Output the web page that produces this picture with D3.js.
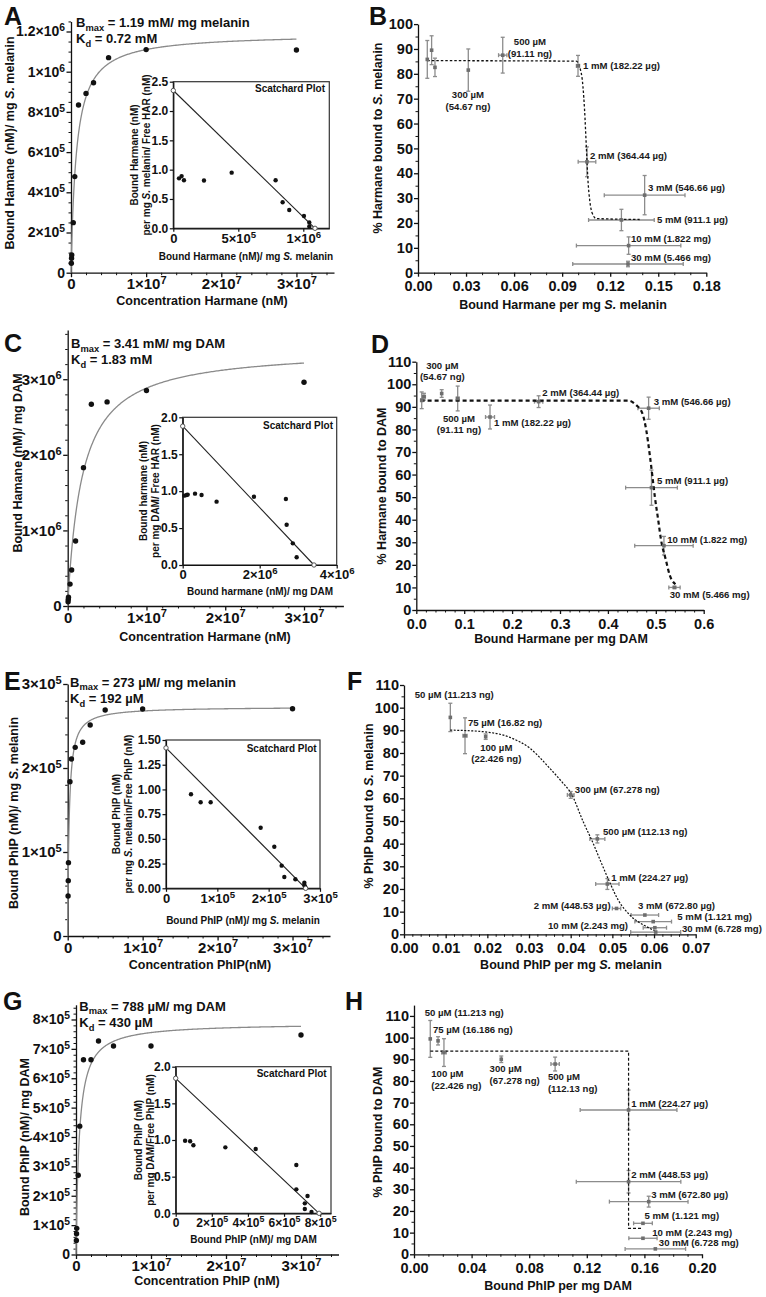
<!DOCTYPE html>
<html><head><meta charset="utf-8">
<script src="https://cdn.jsdelivr.net/npm/d3@7"></script>
<style>
body{margin:0;background:#fff}
svg{display:block}
</style>
</head><body>
<svg id="c" width="766" height="1297"></svg>
<script>
// ---------------- DATA ----------------
// Saturation binding: concentrations (nM)
const concentrations = [5e4, 7.5e4, 1e5, 3e5, 5e5, 1e6, 2e6, 3e6, 5e6, 1e7, 3e7];
const boundA = [4.7e4, 7.2e4, 8.8e4, 2.49e5, 4.78e5, 8.34e5, 8.92e5, 9.45e5, 1.07e6, 1.11e6, 1.108e6];
const boundC = [5.7e4, 8.8e4, 1.15e5, 2.9e5, 4.76e5, 8.6e5, 1.83e6, 2.67e6, 2.70e6, 2.85e6, 2.96e6];
const boundE = [4.76e4, 6.59e4, 8.73e4, 1.837e5, 2.107e5, 2.246e5, 2.306e5, 2.512e5, 2.69e5, 2.702e5, 2.706e5];
const boundG = [4.8e4, 7.1e4, 8.9e4, 2.7e5, 4.37e5, 6.63e5, 6.63e5, 7.27e5, 7.10e5, 7.10e5, 7.47e5];
// fit parameters (from the panel text)
const fitA = {bmax: 1.19e6, kd: 7.2e5};
const fitC = {bmax: 3.41e6, kd: 1.83e6};
const fitE = {bmax: 2.73e5, kd: 1.92e5};
const fitG = {bmax: 7.88e5, kd: 4.30e5};
const fitTextA = ["1.19 mM/ mg melanin", "0.72 mM"];
const fitTextC = ["3.41 mM/ mg DAM", "1.83 mM"];
const fitTextE = ["273 \u00b5M/ mg melanin", "192 \u00b5M"];
const fitTextG = ["788 \u00b5M/ mg DAM", "430 \u00b5M"];

// Scatchard insets
const scatAx = [4.4e4, 6.4e4, 8.2e4, 2.36e5, 4.49e5, 7.87e5, 8.41e5, 8.92e5, 1.005e6, 1.046e6, 1.046e6];
const scatAy = [0.852, 0.89, 0.82, 0.815, 0.949, 0.82, 0.443, 0.312, 0.21, 0.10, 0.03];
const scatAline = [[0, 2.35], [1.09e6, 0]];
const scatCx = [4.3e4, 1.04e5, 1.3e5, 3.2e5, 4.9e5, 8.8e5, 1.85e6, 2.68e6, 2.70e6, 2.86e6, 2.96e6];
const scatCy = [0.939, 0.948, 0.953, 0.966, 0.948, 0.858, 0.925, 0.894, 0.546, 0.293, 0.104];
const scatCline = [[0, 1.88], [3.41e6, 0]];
const scatEx = [4.87e4, 6.75e4, 8.7e4, 1.844e5, 2.11e5, 2.253e5, 2.305e5, 2.52e5, 2.695e5, 2.695e5, 2.71e5];
const scatEy = [0.951, 0.87, 0.87, 0.613, 0.421, 0.229, 0.115, 0.091, 0.057, 0.034, 0.017];
const scatEline = [[0, 1.42], [2.72e5, 0]];
const scatGx = [5.2e4, 8.0e4, 9.8e4, 2.75e5, 4.43e5, 6.68e5, 6.68e5, 7.3e5, 7.15e5, 7.15e5, 7.52e5];
const scatGy = [0.99, 0.982, 0.928, 0.90, 0.877, 0.659, 0.327, 0.236, 0.136, 0.059, 0.018];
const scatGline = [[0, 1.842], [7.94e5, 0]];

// Displacement panels
const dispBx = [0.0058, 0.0085, 0.0106, 0.0314, 0.0529, 0.0999, 0.1055, 0.1415, 0.127, 0.1315, 0.1311];
const dispBy = [85.8, 89.5, 82.6, 81.5, 87.5, 83.2, 44.6, 31.2, 21.2, 10.9, 3.5];
const dispBxe = [0, 0, 0, 0, 0.0026, 0.001, 0.0055, 0.0252, 0.0205, 0.0326, 0.0345];
const dispBye = [7.6, 5.8, 3.7, 8.5, 7.2, 4.2, 6.0, 7.9, 4.3, 3.5, 1.1];
const curveB = [[0.0058,85.3],[0.0988,85.1],[0.1009,82.8],[0.103,74.8],[0.104,65.4],[0.1051,50.7],[0.1061,37.3],[0.1072,29.2],[0.1088,23.9],[0.1113,21.8],[0.1384,21.4]];
const labelsB = [
  {t:"500 \u00b5M\n(91.11 ng)", x:0.0699, y:91.4, a:"middle"},
  {t:"1 mM (182.22 \u00b5g)", x:0.103, y:81.9, a:"start"},
  {t:"300 \u00b5M\n(54.67 ng)", x:0.0312, y:70.2, a:"middle"},
  {t:"2 mM (364.44 \u00b5g)", x:0.1074, y:45.7, a:"start"},
  {t:"3 mM (546.66 \u00b5g)", x:0.1436, y:32.9, a:"start"},
  {t:"5 mM (911.1 \u00b5g)", x:0.1492, y:20.0, a:"start"},
  {t:"10 mM (1.822 mg)", x:0.133, y:12.3, a:"start"},
  {t:"30 mM (5.466 mg)", x:0.133, y:4.9, a:"start"}
];

const dispDx = [0.0113, 0.016, 0.053, 0.0864, 0.1539, 0.2554, 0.485, 0.491, 0.517, 0.539];
const dispDy = [92.9, 94.5, 95.9, 93.7, 85.5, 92.3, 89.4, 54.2, 28.5, 10.0];
const dispDxe = [0.002, 0.003, 0, 0.003, 0.0094, 0.0087, 0.0223, 0.054, 0.061, 0.0118];
const dispDye = [3.7, 1.5, 1.7, 5.5, 5.3, 2.6, 4.9, 7.8, 4.1, 0.5];
const curveD = [[0.009,92.8],[0.442,92.8],[0.459,90.8],[0.472,87.1],[0.480,79.8],[0.487,69.4],[0.493,59.1],[0.498,50.2],[0.505,39.9],[0.511,31.0],[0.521,22.2],[0.529,15.5],[0.541,11.4]];
const labelsD = [
  {t:"300 \u00b5M\n(54.67 ng)", x:0.0543, y:106.9, a:"middle"},
  {t:"500 \u00b5M\n(91.11 ng)", x:0.0891, y:83.3, a:"middle"},
  {t:"1 mM (182.22 \u00b5g)", x:0.1622, y:81.4, a:"start"},
  {t:"2 mM (364.44 \u00b5g)", x:0.263, y:94.7, a:"start"},
  {t:"3 mM (546.66 \u00b5g)", x:0.4956, y:90.6, a:"start"},
  {t:"5 mM (911.1 \u00b5g)", x:0.5025, y:55.6, a:"start"},
  {t:"10 mM (1.822 mg)", x:0.524, y:29.8, a:"start"},
  {t:"30 mM (5.466 mg)", x:0.529, y:5.4, a:"start"}
];

const dispFx = [0.01112, 0.01464, 0.0196, 0.0400, 0.0464, 0.0488, 0.0510, 0.0578, 0.0598, 0.0602, 0.0604];
const dispFy = [95.7, 87.6, 87.2, 61.5, 42.1, 22.2, 11.4, 8.5, 5.6, 2.9, 1.0];
const dispFxe = [0, 0.0005, 0, 0.0008, 0.0018, 0.0028, 0.0010, 0.0033, 0.0044, 0.0028, 0.0060];
const dispFye = [6.25, 7.9, 1.2, 1.5, 1.8, 2.4, 0, 0, 0, 0, 0];
const curveF = [[0.0111,90.1],[0.019,89.4],[0.0254,86.9],[0.0302,82.1],[0.035,73.2],[0.0382,66.6],[0.040,62.5],[0.043,49.7],[0.0454,40.1],[0.0474,31.3],[0.0494,22.8],[0.0514,15.1],[0.0542,8.5],[0.0582,3.4],[0.0602,1.6]];
const labelsF = [
  {t:"50 \u00b5M (11.213 ng)", x:0.00257, y:104.1, a:"start"},
  {t:"75 \u00b5M (16.82 ng)", x:0.01536, y:91.9, a:"start"},
  {t:"100 \u00b5M\n(22.426 ng)", x:0.02215, y:80.9, a:"middle"},
  {t:"300 \u00b5M (67.278 ng)", x:0.041, y:62.2, a:"start"},
  {t:"500 \u00b5M (112.13 ng)", x:0.04776, y:43.8, a:"start"},
  {t:"1 mM (224.27 \u00b5g)", x:0.04975, y:23.6, a:"start"},
  {t:"2 mM (448.53 \u00b5g)", x:0.0496, y:11.0, a:"end"},
  {t:"3 mM (672.80 \u00b5g)", x:0.05616, y:11.0, a:"start"},
  {t:"5 mM (1.121 mg)", x:0.0656, y:6.3, a:"start"},
  {t:"10 mM (2.243 mg)", x:0.05376, y:2.2, a:"end"},
  {t:"30 mM (6.728 mg)", x:0.0667, y:1.1, a:"start"}
];

const dispHx = [0.0113, 0.0167, 0.0208, 0.0606, 0.098, 0.149, 0.149, 0.163, 0.159, 0.159, 0.1676];
const dispHy = [99.4, 98.5, 93.1, 90.0, 87.8, 66.6, 33.5, 24.3, 14.3, 7.4, 2.5];
const dispHxe = [0, 0, 0.0016, 0, 0.0029, 0.0336, 0.0363, 0.0273, 0.0065, 0.0098, 0.021];
const dispHye = [8.5, 1.9, 6.4, 1.5, 3.2, 9.2, 5.2, 2.5, 0, 0, 0];
const curveH = [[0.0113,93.8],[0.149,93.8],[0.149,12.0],[0.159,12.0]];
const labelsH = [
  {t:"50 \u00b5M (11.213 ng)", x:0.00743, y:110.0, a:"start"},
  {t:"75 \u00b5M (16.186 ng)", x:0.0132, y:102.3, a:"start"},
  {t:"100 \u00b5M\n(22.426 ng)", x:0.012, y:81.6, a:"start"},
  {t:"300 \u00b5M\n(67.278 ng)", x:0.0525, y:84.0, a:"start"},
  {t:"500 \u00b5M\n(112.13 ng)", x:0.093, y:80.4, a:"start"},
  {t:"1 mM (224.27 \u00b5g)", x:0.1508, y:67.8, a:"start"},
  {t:"2 mM (448.53 \u00b5g)", x:0.1508, y:35.1, a:"start"},
  {t:"3 mM (672.80 \u00b5g)", x:0.1647, y:25.8, a:"start"},
  {t:"5 mM (1.121 mg)", x:0.1601, y:16.3, a:"start"},
  {t:"10 mM (2.243 mg)", x:0.1654, y:8.6, a:"start"},
  {t:"30 mM (6.728 mg)", x:0.170, y:3.8, a:"start"}
];

// Tick values
const tickSatX = [0, 1e7, 2e7, 3e7];
const tickAy = [0, 2e5, 4e5, 6e5, 8e5, 1e6, 1.2e6];
const tickCy = [0, 1e6, 2e6, 3e6];
const tickEy = [0, 1e5, 2e5, 3e5];
const tickGy = [0, 1e5, 2e5, 3e5, 4e5, 5e5, 6e5, 7e5, 8e5];
const tickBx = [0, 0.03, 0.06, 0.09, 0.12, 0.15, 0.18];
const tickBy = [0, 10, 20, 30, 40, 50, 60, 70, 80, 90, 100];
const tickDx = [0, 0.1, 0.2, 0.3, 0.4, 0.5, 0.6];
const tickPctY = [0, 10, 20, 30, 40, 50, 60, 70, 80, 90, 100, 110];
const tickFx = [0, 0.01, 0.02, 0.03, 0.04, 0.05, 0.06, 0.07];
const tickHx = [0, 0.04, 0.08, 0.12, 0.16, 0.20];
const tickInAx = [0, 5e5, 1e6], tickInAy = [0, 0.5, 1.0, 1.5, 2.0, 2.5];
const tickInCx = [0, 2e6, 4e6], tickInCy = [0, 0.5, 1.0, 1.5, 2.0];
const tickInEx = [0, 1e5, 2e5, 3e5], tickInEy = [0, 0.25, 0.5, 0.75, 1.0, 1.25, 1.5];
const tickInGx = [0, 2e5, 4e5, 6e5, 8e5], tickInGy = [0, 0.5, 1.0, 1.5, 2.0];

// ---------------- DRAWING ----------------
const FONT = '"Liberation Sans", Arial, Helvetica, sans-serif';
const INK = "#111";
const svg = d3.select("#c").attr("font-family", FONT).attr("font-weight", "bold");

function rich(sel, str) {
  str.split(/(S\.)/).forEach(p => {
    if (!p) return;
    const ts = sel.append("tspan").text(p);
    if (p === "S.") ts.attr("font-style", "italic");
  });
}
const fmtSci = (t, d) => {
  if (d === 0) { t.text("0"); return; }
  const e = Math.floor(Math.log10(d) + 1e-9);
  const m = +(d / Math.pow(10, e)).toFixed(2);
  t.append("tspan").text(m + "\u00d710");
  t.append("tspan").attr("dy", "-0.5em").attr("font-size", "0.74em").text(e);
};
const fmtFix = n => (t, d) => t.text(d3.format("." + n + "f")(d));
const fmtInt = (t, d) => t.text(d3.format("d")(d));

function minorVals(dom, step, majors) {
  return d3.range(dom[0], dom[1] + step * 1e-6, step)
    .filter(v => !majors.some(m => Math.abs(m - v) < step * 1e-3));
}

function axis(orient, scale, pos, majors, minors, o) {
  const gen = orient === "left" ? d3.axisLeft : d3.axisBottom;
  const tr = orient === "left" ? `translate(${pos},0)` : `translate(0,${pos})`;
  const g = svg.append("g").attr("transform", tr)
    .call(gen(scale).tickValues(majors).tickSize(o.tick).tickSizeOuter(0).tickPadding(o.pad).tickFormat(""));
  g.attr("font-family", FONT).attr("font-size", o.fs).attr("font-weight", "bold");
  g.select(".domain").attr("stroke", INK).attr("stroke-width", o.w || 1.3);
  g.selectAll(".tick line").attr("stroke", INK).attr("stroke-width", o.w || 1.3);
  g.selectAll(".tick text").attr("fill", INK).each(function (d) { const t = d3.select(this).text(null); o.fmt(t, d); });
  if (minors && minors.length) {
    const m = svg.append("g").attr("transform", tr)
      .call(gen(scale).tickValues(minors).tickSize(o.minor || 2.5).tickSizeOuter(0).tickFormat(""));
    m.select(".domain").remove();
    m.selectAll("line").attr("stroke", INK).attr("stroke-width", 1);
  }
}

function vTitle(cx, cy, str, fs) {
  const t = svg.append("text").attr("transform", `translate(${cx + fs * 0.35},${cy}) rotate(-90)`)
    .attr("text-anchor", "middle").attr("font-size", fs).attr("fill", INK);
  rich(t, str);
}
function hTitle(cx, by, str, fs) {
  const t = svg.append("text").attr("x", cx).attr("y", by).attr("text-anchor", "middle").attr("font-size", fs).attr("fill", INK);
  rich(t, str);
}
function letter(p) {
  svg.append("text").attr("x", p[0]).attr("y", p[1]).attr("font-size", 25).attr("fill", INK).text(p[2]);
}
function fitText(x, y, sym, sub, rest, fs) {
  const t = svg.append("text").attr("x", x).attr("y", y).attr("font-size", fs).attr("fill", INK);
  t.append("tspan").text(sym);
  t.append("tspan").attr("font-size", fs * 0.72).attr("dy", fs * 0.3).text(sub);
  t.append("tspan").attr("dy", -fs * 0.3).text(" = " + rest);
}

function satPanel(L, ys, fit, ftxt, ins) {
  const sx = d3.scaleLinear(L.xDom, [L.x0, L.x1]);
  const sy = d3.scaleLinear(L.yDom, [L.y0, L.y1]);
  letter(L.letter);
  axis("left", sy, L.x0, L.yTicks, minorVals(L.yDom, L.yMinor, L.yTicks), {tick: 4.5, pad: 1.5, fs: L.tfs, fmt: fmtSci});
  axis("bottom", sx, L.y0, tickSatX, minorVals(L.xDom, L.xMinor, tickSatX), {tick: 4.5, pad: 1.5, fs: 15, fmt: fmtSci});
  // fit curve
  const xmax = concentrations[concentrations.length - 1];
  const xs = d3.range(0, 401).map(i => xmax * Math.pow(i / 400, 3));
  svg.append("path").datum(xs).attr("fill", "none").attr("stroke", "#8a8a8a").attr("stroke-width", 1.3)
    .attr("d", d3.line().x(d => sx(d)).y(d => sy(fit.bmax * d / (fit.kd + d))));
  svg.append("g").selectAll("circle").data(concentrations).join("circle")
    .attr("cx", (d) => sx(d)).attr("cy", (d, i) => sy(ys[i])).attr("r", 2.7).attr("fill", INK);
  fitText(L.bm[0], L.bm[1], "B", "max", ftxt[0], 13);
  fitText(L.bm[0], L.bm[2], "K", "d", ftxt[1], 13);
  vTitle(L.yt[0], L.yt[1], L.ytitle, 12.5);
  hTitle(L.xt[0], L.xt[1], L.xtitle, 12.5);
  inset(ins);
}

function inset(I) {
  const sx = d3.scaleLinear(I.xDom, [I.x0, I.x1]);
  const sy = d3.scaleLinear(I.yDom, [I.y0, I.y1]);
  svg.append("rect").attr("x", I.x0).attr("y", I.y1).attr("width", I.x1 - I.x0).attr("height", I.y0 - I.y1)
    .attr("fill", "#fff").attr("stroke", "#333").attr("stroke-width", 1.2);
  axis("left", sy, I.x0, I.yTicks, null, {tick: 3.5, pad: 1.5, fs: 12, fmt: I.yFmt, w: 1.2});
  axis("bottom", sx, I.y0, I.xTicks, null, {tick: 3.5, pad: 1.5, fs: I.xfs, fmt: fmtSci, w: 1.2});
  svg.append("line").attr("x1", sx(I.line[0][0])).attr("y1", sy(I.line[0][1]))
    .attr("x2", sx(I.line[1][0])).attr("y2", sy(I.line[1][1])).attr("stroke", "#222").attr("stroke-width", 1.1);
  svg.append("g").selectAll("circle").data(I.xs).join("circle")
    .attr("cx", d => sx(d)).attr("cy", (d, i) => sy(I.ys[i])).attr("r", 2.2).attr("fill", INK);
  svg.append("g").selectAll("circle").data(I.line).join("circle")
    .attr("cx", d => sx(d[0])).attr("cy", d => sy(d[1])).attr("r", 2.2)
    .attr("fill", "#fff").attr("stroke", "#444").attr("stroke-width", 0.9);
  svg.append("text").attr("x", I.st[0]).attr("y", I.st[1]).attr("text-anchor", "end").attr("font-size", 10).attr("fill", INK).text("Scatchard Plot");
  const yt = svg.append("text").attr("transform", `translate(${I.yt[0]},${I.yt[1]}) rotate(-90)`)
    .attr("text-anchor", "middle").attr("font-size", 10).attr("fill", INK);
  I.ytitle.forEach((ln, i) => { const ts = yt.append("tspan").attr("x", 0).attr("dy", i ? "1.25em" : 0); rich(ts, ln); });
  const xt = svg.append("text").attr("x", I.xt[0]).attr("y", I.xt[1]).attr("text-anchor", "middle").attr("font-size", 10).attr("fill", INK);
  rich(xt, I.xtitle);
}

function dispPanel(L, xs, ys, xe, ye, curve, labels) {
  const sx = d3.scaleLinear(L.xDom, [L.x0, L.x1]);
  const sy = d3.scaleLinear(L.yDom, [L.y0, L.y1]);
  letter(L.letter);
  axis("left", sy, L.x0, L.yTicks, minorVals([0, L.yTicks[L.yTicks.length - 1]], 5, L.yTicks), {tick: 4, pad: 1, fs: 14.5, fmt: fmtInt});
  axis("bottom", sx, L.y0, L.xTicks, minorVals(L.xDom, L.xMinor, L.xTicks), {tick: 4, pad: 4.5, fs: 14.5, fmt: L.xFmt});
  const eb = svg.append("g").attr("stroke", "#8c8c8c").attr("stroke-width", 1.3).attr("fill", "none");
  xs.forEach((x, i) => {
    const px = sx(x), py = sy(ys[i]);
    if (ye[i] > 0) {
      const a = sy(ys[i] + ye[i]), b = sy(ys[i] - ye[i]);
      eb.append("line").attr("x1", px).attr("x2", px).attr("y1", a).attr("y2", b);
      eb.append("line").attr("x1", px - 2).attr("x2", px + 2).attr("y1", a).attr("y2", a);
      eb.append("line").attr("x1", px - 2).attr("x2", px + 2).attr("y1", b).attr("y2", b);
    }
    if (xe[i] > 0) {
      const a = sx(x - xe[i]), b = sx(x + xe[i]);
      eb.append("line").attr("x1", a).attr("x2", b).attr("y1", py).attr("y2", py);
      eb.append("line").attr("x1", a).attr("x2", a).attr("y1", py - 2).attr("y2", py + 2);
      eb.append("line").attr("x1", b).attr("x2", b).attr("y1", py - 2).attr("y2", py + 2);
    }
  });
  svg.append("path").datum(curve).attr("fill", "none").attr("stroke", INK)
    .attr("stroke-width", L.cw).attr("stroke-dasharray", L.dash)
    .attr("d", d3.line().x(d => sx(d[0])).y(d => sy(d[1])).curve(L.curve));
  svg.append("g").selectAll("rect").data(xs).join("rect")
    .attr("x", d => sx(d) - 1.8).attr("y", (d, i) => sy(ys[i]) - 1.8).attr("width", 3.6).attr("height", 3.6).attr("fill", "#6e6e6e");
  labels.forEach(l => {
    const t = svg.append("text").attr("x", sx(l.x)).attr("y", sy(l.y)).attr("text-anchor", l.a)
      .attr("font-size", 9.6).attr("fill", "#1a1a1a");
    l.t.split("\n").forEach((ln, i) => t.append("tspan").attr("x", sx(l.x)).attr("dy", i ? "1.2em" : 0).text(ln));
  });
  vTitle(L.yt[0], L.yt[1], L.ytitle, 12.5);
  hTitle(L.xt[0], L.xt[1], L.xtitle, 12.5);
}

// ---- Layouts ----
satPanel({letter: [4, 25, "A"], x0: 71, x1: 334, y0: 272.7, y1: 21.45, xDom: [0, 3.5e7], yDom: [0, 1.25e6], tfs: 14,
  yTicks: tickAy, yMinor: 5e4, xMinor: 2e6, bm: [76, 26.7, 42.7], yt: [10, 143], xt: [202, 305],
  ytitle: "Bound Hamane (nM)/ mg S. melanin", xtitle: "Concentration Harmane (nM)"},
  boundA, fitA, fitTextA,
  {x0: 173.3, x1: 329.3, y0: 228.3, y1: 81.7, xDom: [0, 1.2e6], yDom: [0, 2.5], xTicks: tickInAx, yTicks: tickInAy, yFmt: fmtFix(1), xfs: 13,
   xs: scatAx, ys: scatAy, line: scatAline, st: [325, 92], yt: [137.5, 155], xt: [246, 260],
   ytitle: ["Bound Harmane (nM)", "per mg S. melanin/ Free HAR (nM)"], xtitle: "Bound Harmane (nM)/ mg S. melanin"});

satPanel({letter: [4, 352, "C"], x0: 67.7, x1: 343.4, y0: 606, y1: 330.1, xDom: [0, 3.5e7], yDom: [0, 3.65e6], tfs: 15,
  yTicks: tickCy, yMinor: 2e5, xMinor: 2e6, bm: [71, 348, 364], yt: [18, 463], xt: [205, 641],
  ytitle: "Bound Hamane (nM)/ mg DAM", xtitle: "Concentration Harmane (nM)"},
  boundC, fitC, fitTextC,
  {x0: 182.7, x1: 336.7, y0: 565, y1: 417.3, xDom: [0, 4e6], yDom: [0, 2.0], xTicks: tickInCx, yTicks: tickInCy, yFmt: fmtFix(1), xfs: 13,
   xs: scatCx, ys: scatCy, line: scatCline, st: [333, 429], yt: [146.5, 491], xt: [260, 595],
   ytitle: ["Bound harmane (nM)", "per mg DAM/ Free HAR (nM)"], xtitle: "Bound harmane (nM)/ mg DAM"});

satPanel({letter: [4, 690, "E"], x0: 67.7, x1: 330, y0: 936, y1: 684, xDom: [0, 3.5e7], yDom: [0, 3e5], tfs: 15,
  yTicks: tickEy, yMinor: 2e4, xMinor: 2e6, bm: [70, 686.5, 703], yt: [14, 813], xt: [200, 969],
  ytitle: "Bound PhIP (nM)/ mg S. melanin", xtitle: "Concentration PhIP(nM)"},
  boundE, fitE, fitTextE,
  {x0: 166, x1: 320, y0: 888.3, y1: 740, xDom: [0, 3e5], yDom: [0, 1.5], xTicks: tickInEx, yTicks: tickInEy, yFmt: fmtFix(2), xfs: 13,
   xs: scatEx, ys: scatEy, line: scatEline, st: [316.7, 751.7], yt: [119.5, 814], xt: [243, 924],
   ytitle: ["Bound PhIP (nM)", "per mg S. melanin/Free PhIP (nM)"], xtitle: "Bound PhIP (nM)/ mg S. melanin"});

satPanel({letter: [3, 1010, "G"], x0: 76, x1: 338.5, y0: 1254.5, y1: 1004.8, xDom: [0, 3.5e7], yDom: [0, 8.5e5], tfs: 14,
  yTicks: tickGy, yMinor: 2e4, xMinor: 2e6, bm: [79.3, 1010.5, 1027], yt: [25, 1137], xt: [207, 1285],
  ytitle: "Bound PhIP (nM)/ mg DAM", xtitle: "Concentration PhIP (nM)"},
  boundG, fitG, fitTextG,
  {x0: 175.7, x1: 331, y0: 1213.3, y1: 1066.7, xDom: [0, 8.6e5], yDom: [0, 2.0], xTicks: tickInGx, yTicks: tickInGy, yFmt: fmtFix(1), xfs: 12,
   xs: scatGx, ys: scatGy, line: scatGline, st: [326.7, 1076.7], yt: [141.5, 1140], xt: [253.5, 1243],
   ytitle: ["Bound PhIP (nM)", "per mg DAM/Free PhIP (nM)"], xtitle: "Bound PhIP (nM)/ mg DAM"});

dispPanel({letter: [369, 25, "B"], x0: 418, x1: 706.3, y0: 272.7, y1: 24.1, xDom: [0, 0.18], yDom: [0, 100],
  xTicks: tickBx, yTicks: tickBy, xMinor: 0.01, xFmt: fmtFix(2), yt: [377.5, 138], xt: [563, 309],
  ytitle: "% Harmane bound to S. melanin", xtitle: "Bound Harmane per mg S. melanin",
  curve: d3.curveMonotoneX, dash: "2.5,2", cw: 1.3},
  dispBx, dispBy, dispBxe, dispBye, curveB, labelsB);

dispPanel({letter: [371, 353, "D"], x0: 416.3, x1: 703.7, y0: 610, y1: 361.7, xDom: [0, 0.6], yDom: [0, 110],
  xTicks: tickDx, yTicks: tickPctY, xMinor: 0.02, xFmt: fmtFix(1), yt: [382, 486], xt: [561, 643],
  ytitle: "% Harmane bound to DAM", xtitle: "Bound Harmane per mg DAM",
  curve: d3.curveMonotoneX, dash: "4,3", cw: 2.2},
  dispDx, dispDy, dispDxe, dispDye, curveD, labelsD);

dispPanel({letter: [347, 690, "F"], x0: 404, x1: 695.7, y0: 934.3, y1: 685, xDom: [0, 0.07], yDom: [0, 110],
  xTicks: tickFx, yTicks: tickPctY, xMinor: 0.002, xFmt: fmtFix(2), yt: [368.5, 806], xt: [571, 969],
  ytitle: "% PhIP bound to S. melanin", xtitle: "Bound PhIP per mg S. melanin",
  curve: d3.curveMonotoneX, dash: "2,1.5", cw: 1.2},
  dispFx, dispFy, dispFxe, dispFye, curveF, labelsF);

dispPanel({letter: [345, 1010, "H"], x0: 414, x1: 702, y0: 1254.3, y1: 1005.1, xDom: [0, 0.2], yDom: [0, 115],
  xTicks: tickHx, yTicks: tickPctY, xMinor: 0.01, xFmt: fmtFix(2), yt: [378, 1132], xt: [558, 1290],
  ytitle: "% PhIP bound to DAM", xtitle: "Bound PhIP per mg DAM",
  curve: d3.curveLinear, dash: "3,2", cw: 1.2},
  dispHx, dispHy, dispHxe, dispHye, curveH, labelsH);
</script>
</body></html>
